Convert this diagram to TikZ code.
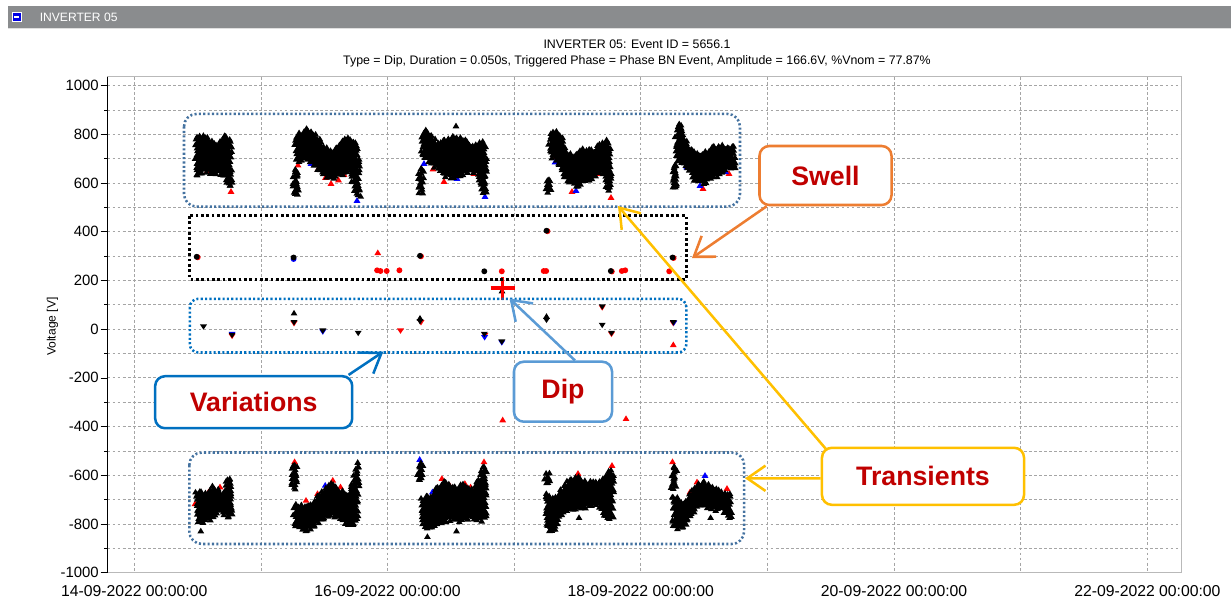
\documentclass[tikz,border=0pt]{standalone}
\usepackage{fontspec}
\setmainfont{Liberation Sans}
\usetikzlibrary{arrows.meta,decorations.markings}

\definecolor{bargray}{RGB}{138,140,142}
\definecolor{gridgray}{RGB}{165,165,165}
\definecolor{steelblue}{RGB}{68,114,160}
\definecolor{varblue}{RGB}{0,112,192}
\definecolor{swellorange}{RGB}{237,125,49}
\definecolor{dipblue}{RGB}{91,155,213}
\definecolor{transgold}{RGB}{255,192,0}
\definecolor{labelred}{RGB}{192,0,0}

\tikzset{
  grid line/.style={gridgray,line width=0.5pt,dash pattern=on 2pt off 1.6pt},
  band/.style={line width=1.8pt,dash pattern=on 1.5pt off 1.6pt},
  callout/.style={draw,line width=1.8pt,rounded corners=7pt,fill=white,inner sep=0pt,
    text=labelred,font=\fontsize{19}{22}\selectfont\bfseries},
  pointer/.style={line width=1.8pt,-{Straight Barb[length=13pt,width=18pt]}},
  upmark/.pic={\fill (0pt,2.4pt) -- (-2.4pt,-1.6pt) -- (2.4pt,-1.6pt) -- cycle;},
  downmark/.pic={\fill (0pt,-2.2pt) -- (-2.5pt,1.6pt) -- (2.5pt,1.6pt) -- cycle;},
  dotmark/.pic={\fill (0pt,0pt) circle (2.1pt);},
  blob/.style={fill=black,postaction={decorate},decoration={markings,
    mark=between positions 0 and 1 step 2.2pt with {\pgftransformresetnontranslations
      \pgfmathsetmacro\jx{1.1*rand}\pgfmathsetmacro\jy{1.1*rand}
      \fill[black] (\jx pt,\jy pt) ++(0pt,2.4pt) -- ++(-2.4pt,-4pt) -- ++(4.8pt,0pt) -- cycle;}}},
}

\begin{document}
\begin{tikzpicture}[x=0.025cm,y=-0.025cm]
\pgfmathsetseed{2022}
\useasboundingbox (0,0) rectangle (1231,601);

% panel header
\fill[bargray] (8,6) rectangle (1231,28);
\draw[gray!25] (8,28.6) -- (1231,28.6);
\draw[white,fill=blue!90!black,line width=0.6pt] (12,12) rectangle (21.6,21.8);
\draw[white,line width=1.2pt] (14.3,17) -- (19.3,17);
\node[anchor=west,inner sep=0pt,text=white,font=\fontsize{8.6}{10}\selectfont] (panel) at (39.5,17) {INVERTER 05};

\node[align=center,inner sep=0pt,font=\fontsize{8.8}{10.9}\selectfont] (title) at (637,53.5)
  {INVERTER 05: Event ID = 5656.1\\Type = Dip, Duration = 0.050s, Triggered Phase = Phase BN Event, Amplitude = 166.6V, \%Vnom = 77.87\%};

% grid
\foreach \v in {-1000,-900,...,1000}{
  \pgfmathsetmacro\yy{329.1-0.24358*\v}
  \draw[grid line] (107.5,\yy) -- (1181.7,\yy);
}
\foreach \d in {0,...,8}{
  \pgfmathsetmacro\xx{134.2+126.65*\d}
  \draw[grid line] (\xx,76.7) -- (\xx,572.7);
}
\draw[gray!55] (107.5,76.7) rectangle (1181.7,572.7);
\draw (107.5,76.7) -- (107.5,572.7);

% y axis
\foreach \v in {-900,-700,...,900}{
  \pgfmathsetmacro\yy{329.1-0.24358*\v}
  \draw (104,\yy) -- (107.5,\yy);
}
\foreach \v in {-1000,-800,...,1000}{
  \pgfmathsetmacro\yy{329.1-0.24358*\v}
  \draw (100.5,\yy) -- (107.5,\yy);
  \node[anchor=east,inner sep=0pt,font=\fontsize{10.6}{12}\selectfont] (tick\v) at (99,\yy) {\v};
}
\node[rotate=90,inner sep=0pt,font=\fontsize{8.6}{10}\selectfont] (ylabel) at (52.4,326.6) {Voltage [V]};

% x axis
\foreach \d/\t in {0/14,2/16,4/18,6/20,8/22}
  \node[inner sep=0pt,font=\fontsize{11.2}{13}\selectfont] (date\t) at (134.2+126.65*\d,591) {\t-09-2022 00:00:00};

% phase A / phase B samples, mostly hidden behind phase C
\foreach \x/\y in {231/189,207/169,222/172,298/162.5,318/166.5,325.5/175,331/181,338.5/177.5,344/172,350/164,433/166.5,444/179,474/171,553.5/154.5,572/189,599.6/171,611/195,703/186,729/171}
  \pic[red] at (\x,\y+2.5) {upmark};
\foreach \x/\y in {195/506.3,208.5/494.5,220/489.5,294.6/464.3,306/502.9,317.5/496.2,332.8/482.8,340.5/489.5,484/464.3,441.9/481.1,438/492.8,464.9/486.1,470.6/489.5,449.6/487.8,552.9/511.3,578/476,612/468,672.5/464.3,690/494.5,697/484.5,727/491}
  \pic[red] at (\x,\y-2.5) {upmark};
\foreach \x/\y in {311/161,357/198,424/161,457/176,485/194,555/159.5,576/188,686.7/164.5,700/183,725.5/169}
  \pic[blue] at (\x,\y+2.5) {upmark};
\foreach \x/\y in {325.2/487.8,419.7/462,432.4/494.5,554.8/501.2,705/478}
  \pic[blue] at (\x,\y-2.5) {upmark};

% positive half cycles
\path[blob] (196,174) -- (196,139) -- (200,135) -- (205,137) -- (211,140) -- (216,145) -- (222,139) -- (226,136) -- (230,140) -- (231.5,185) -- (229,187) -- (225.5,176) -- (218,173) -- (211,173) -- (205,169.5) -- (200,174) -- cycle;

\path[blob] (294,193) -- (294,170) -- (295.5,167) -- (297,170) -- (297,193) -- cycle;
\path[blob] (296,146) -- (296,136) -- (307,129) -- (314.5,134) -- (322,144) -- (329,152) -- (337,149) -- (342,140) -- (351.5,138.5) -- (357,144) -- (359.5,195) -- (356,195) -- (351,169.5) -- (344,173) -- (333,178) -- (325.5,176) -- (318,168) -- (307,159.5) -- (297,161) -- cycle;

\path[blob] (419.5,192) -- (419.5,171) -- (421,168) -- (422.5,171) -- (422.5,192) -- cycle;
\path[blob] (422.5,150) -- (422,135) -- (424,130) -- (431,135.5) -- (436.7,144) -- (446,139) -- (455,135.5) -- (464.4,140.5) -- (473.7,145.4) -- (481,142) -- (485,145.4) -- (486,192.5) -- (483,192.5) -- (479,173) -- (470,171) -- (459,176) -- (448,177) -- (438.5,169.5) -- (431,163) -- (425.5,158) -- cycle;

\path[blob] (547,191) -- (547,180.5) -- (548.3,179) -- (549.7,180.5) -- (549.7,191) -- cycle;
\path[blob] (549,150) -- (550,139) -- (555,130) -- (561,135.5) -- (568,155) -- (575.5,155) -- (579,150) -- (588.5,150) -- (596,149) -- (601.5,142) -- (609,140.5) -- (610.5,190.5) -- (608,190.5) -- (603,171) -- (592,177.7) -- (577.4,186) -- (570,183) -- (559,164.5) -- (552,156) -- cycle;

\path[blob] (673.5,187.5) -- (673.5,166) -- (675,164) -- (676.5,166) -- (676.5,187.5) -- cycle;
\path[blob] (677,160) -- (676.5,139) -- (679,123) -- (684,135.5) -- (688.5,147) -- (696,152) -- (705,153.7) -- (712.6,147) -- (722,145.4) -- (729,147) -- (733.5,145.4) -- (734,169.5) -- (729,168) -- (720,174.4) -- (711,177.7) -- (703,183.6) -- (696,181) -- (686.7,164.5) -- (681,161) -- cycle;

% negative half cycles
\path[blob] (197,491.7) -- (200.8,490) -- (206.6,496.7) -- (212.3,486.7) -- (218,490) -- (223.8,495) -- (227.6,480.1) -- (230.5,477) -- (231.3,515.7) -- (227.6,517.5) -- (220,507.5) -- (212.3,517.5) -- (204.6,522.4) -- (199,522.4) -- (197,517.5) -- cycle;

\path[blob] (293.3,488) -- (293.3,466) -- (294.8,464) -- (296.3,466) -- (296.3,488) -- cycle;
\path[blob] (294.5,505) -- (304,506.7) -- (311.8,503.3) -- (319.5,495) -- (331,483.4) -- (338.6,488.4) -- (346.2,496.7) -- (352,488.4) -- (355.8,471.7) -- (357.5,466) -- (358,471.7) -- (357,517.5) -- (352,525.7) -- (342.4,520.7) -- (334.8,514.2) -- (323.3,517.5) -- (311.8,527.4) -- (304,530.7) -- (296.5,527.4) -- (294.7,517.5) -- cycle;

\path[blob] (418.5,480.5) -- (418.5,465) -- (420,463.5) -- (421.5,465) -- (421.5,480.5) -- cycle;
\path[blob] (422.5,498) -- (430.4,496.7) -- (438,486.7) -- (443.8,481.7) -- (451.5,488.4) -- (463,485) -- (472.5,490) -- (480.2,478.4) -- (483.5,466) -- (485.5,468.5) -- (485,517.5) -- (480.2,520.7) -- (472.5,517.5) -- (461,520.7) -- (451.5,517.5) -- (443.8,522.4) -- (434.3,527.4) -- (426.6,529.1) -- (423.5,525.7) -- cycle;

\path[blob] (545.5,482.7) -- (545.5,474.5) -- (547,473) -- (548.5,474.5) -- (548.5,482.7) -- cycle;
\path[blob] (547,494.7) -- (553,500) -- (560.6,491.7) -- (568.2,481.7) -- (575.8,476.7) -- (583.5,480.1) -- (591,483.4) -- (598.8,481.7) -- (606.5,475.1) -- (611.5,470.5) -- (612.9,473.5) -- (612,519.1) -- (606.5,519.1) -- (600.7,505.9) -- (591,504.2) -- (579.7,509.2) -- (568.2,507.5) -- (560.6,515.7) -- (554.8,527.4) -- (551,532.4) -- (547,528) -- cycle;

\path[blob] (672.5,487.7) -- (672.5,467) -- (674,465.5) -- (675.5,467) -- (675.5,487.7) -- cycle;
\path[blob] (673.5,496.7) -- (677,496.7) -- (679,504.2) -- (686.9,498.3) -- (694.5,488.4) -- (702.2,481.7) -- (709.8,485) -- (717.5,488.4) -- (725,493.3) -- (729.8,495) -- (731.5,517.5) -- (729,517.5) -- (721.3,509.2) -- (711.7,509.2) -- (702,504.2) -- (694.5,509.2) -- (686.9,520.7) -- (681,529.1) -- (674,526) -- cycle;

% stray samples
\foreach \x/\y in {456/126,357.7/462.5,200.8/531.1,427.4/536.7,456.5/531.1,579/517.7,710.6/517.7,323.3/519,334.8/517,502/291}
  \pic at (\x,\y) {upmark};
\foreach \x/\y in {377.8/252.8,673.3/344.8,502.7/420,626/418.7}
  \pic[red] at (\x,\y) {upmark};

% swell window
\foreach \x/\y in {377.1/270.3,380.5/271,386.7/271,399.4/270.3,501.8/271.3,543.7/271,546.2/271,621.8/271,625.2/270.3,669.2/271.3,
  197.7/257.3,421/256.3,547.5/231.2,611.8/271.5,673.6/258}
  \pic[red] at (\x,\y) {dotmark};
\pic[blue] at (293.6,259) {dotmark};
\foreach \x/\y in {196.7/256.8,293.6/257.5,420/255.8,484.3/271.3,546.5/230.7,610.8/271,672.6/257.5}
  \pic at (\x,\y) {dotmark};

% short-duration variations
\foreach \x/\y in {232.1/336,294/323.3,400.5/330.7,421/322.3,485/335,602.2/307.5,611.5/334,673.3/323.3}
  \pic[red] at (\x,\y) {downmark};
\foreach \x/\y in {232.1/334,322.8/331.7,484.6/337.4,501.8/342.5,673.8/322.8}
  \pic[blue] at (\x,\y) {downmark};
\foreach \x/\y in {203.5/326.6,232.1/335,294/322.3,322.8/330.7,358.2/333,420/321.3,484.3/334,501.8/341.7,546.5/320,602.2/306.5,602.2/325,611.5/333,673.3/322.3}
  \pic at (\x,\y) {downmark};
\foreach \x/\y in {294/313.2,420/318.3,546.5/316.5}
  \pic at (\x,\y) {upmark};

% event marker
\draw[red,line width=2.8pt] (490.5,287.7) -- (514.5,287.7) (502.5,277) -- (502.5,299.8);

% event windows
\draw[band,steelblue,rounded corners=9pt] (184,113.9) rectangle (740,206.6);
\draw[band,black,line width=2.2pt,dash pattern=on 2pt off 1.8pt] (189.8,215.9) rectangle (686.4,279.3);
\draw[band,varblue,rounded corners=6pt] (189.8,298.8) rectangle (686.4,352.5);
\draw[band,steelblue,rounded corners=9pt] (189.3,452.5) rectangle (744.2,544);

% callouts
\node[callout,draw=swellorange,minimum width=3.3cm,minimum height=1.475cm] (swell) at (825.5,175.5) {Swell};
\node[callout,draw=dipblue,minimum width=2.45cm,minimum height=1.5cm] (dip) at (563,391.7) {Dip};
\node[callout,draw=varblue,minimum width=4.925cm,minimum height=1.3cm] (variations) at (253.7,402.2) {Variations};
\node[callout,draw=transgold,minimum width=5.05cm,minimum height=1.425cm] (transients) at (923,476.3) {Transients};

\coordinate (swellTip) at (692,258);
\coordinate (dipTip) at (509.5,298.5);
\coordinate (varTip) at (383.3,351.7);
\coordinate (upperTip) at (618,206);
\coordinate (lowerTip) at (745,478.3);

\draw[pointer,swellorange] ([xshift=6pt]swell.south west) -- (swellTip);
\draw[pointer,dipblue] ([xshift=8.5pt]dip.north) -- (dipTip);
\draw[pointer,varblue] ([xshift=-3.5pt]variations.north east) -- (varTip);
\draw[pointer,transgold] ([xshift=3.5pt,yshift=-1.5pt]transients.north west) -- (upperTip);
\draw[pointer,transgold] ([yshift=-1.4pt]transients.west) -- (lowerTip);

\end{tikzpicture}
\end{document}
